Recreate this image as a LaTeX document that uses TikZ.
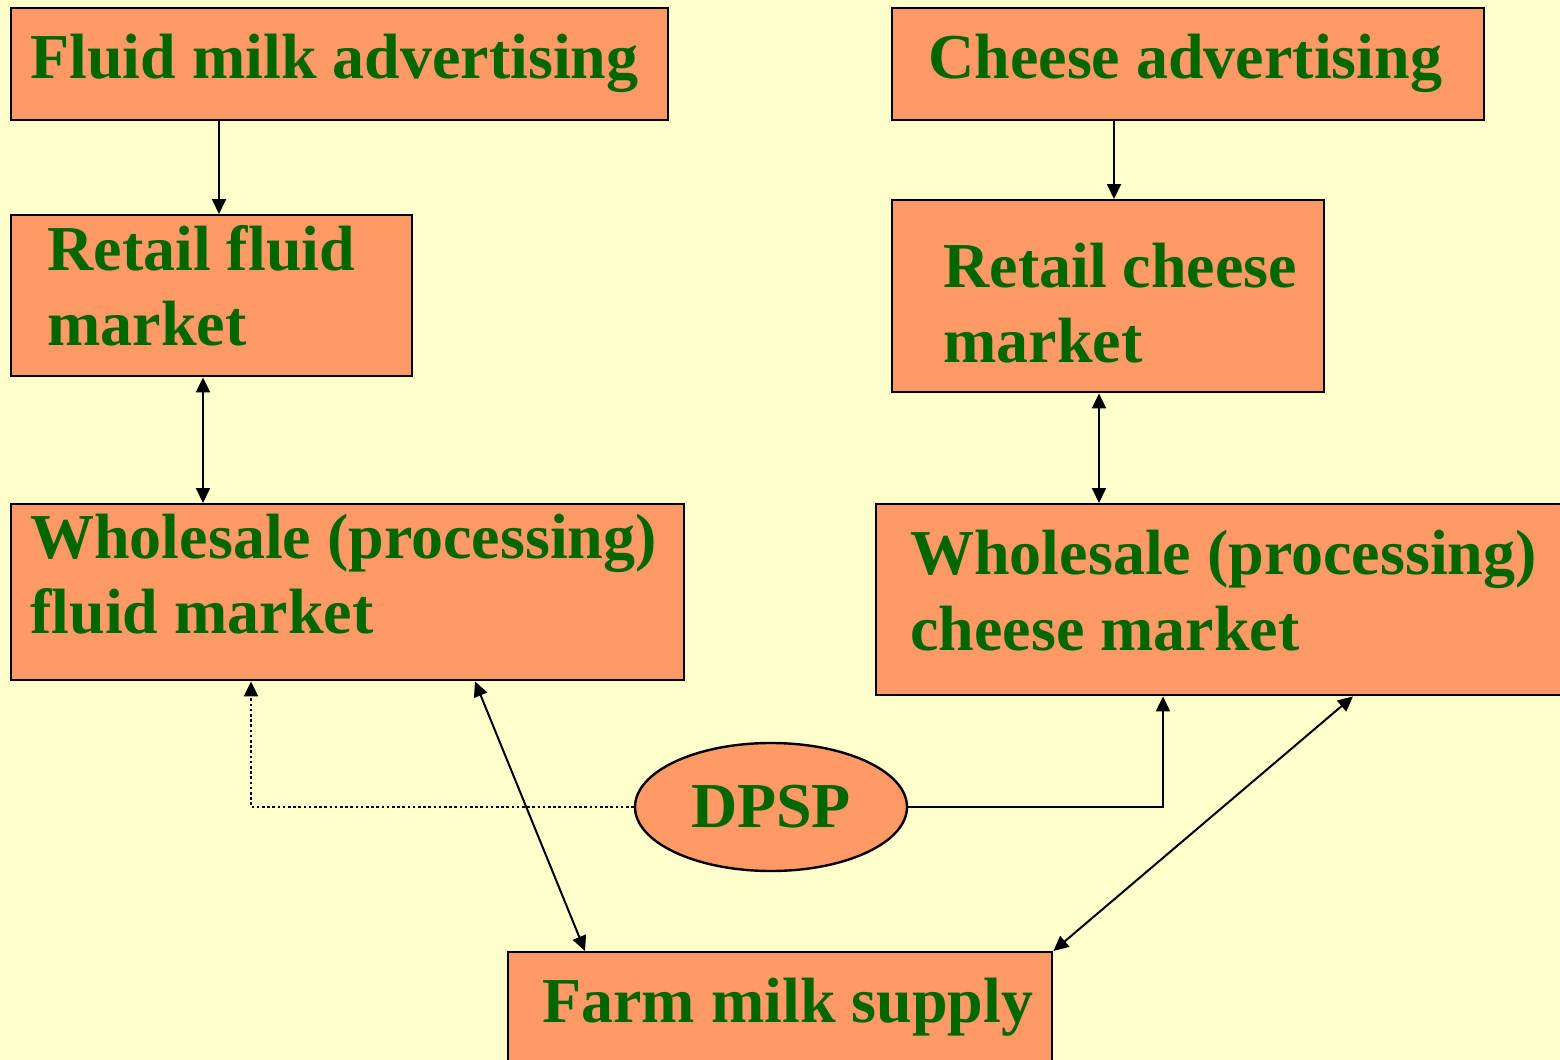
\documentclass[tikz,border=0pt]{standalone}
\usepackage{fontspec}
\setmainfont{Liberation Serif}
\usetikzlibrary{arrows.meta,shapes.geometric}
\definecolor{paper}{HTML}{FFFFCC}
\definecolor{boxfill}{HTML}{FF9966}
\definecolor{boxtext}{HTML}{006600}
\begin{document}
\begin{tikzpicture}[x=0.5pt,y=-0.5pt]
\tikzset{
    market/.style={draw=black, line width=1.2pt, fill=boxfill, rectangle, inner sep=0pt, anchor=north west},
    policy/.style={draw=black, line width=1.2pt, fill=boxfill, ellipse, inner sep=0pt,
        minimum width=136pt, minimum height=64pt, text=boxtext, font=\fontsize{32pt}{37.5pt}\bfseries},
    word/.style={anchor=base west, inner sep=0pt, text=boxtext, font=\fontsize{32pt}{37.5pt}\bfseries},
    link/.style={line width=1pt, -{Triangle[length=7.5pt,width=7pt]}},
    twolink/.style={line width=1pt, {Triangle[length=7.5pt,width=7pt]}-{Triangle[length=7.5pt,width=7pt]}},
    dotlink/.style={link, dash pattern=on 1.3pt off 1.3pt}}

\useasboundingbox[fill=paper] (0,0) rectangle (1560,1060);

% boxes
\node[market, minimum width=328.5pt, minimum height=56pt] (fluidadv) at (10,7) {};
\node[market, minimum width=296pt, minimum height=56pt] (cheeseadv) at (891,7) {};
\node[market, minimum width=200.5pt, minimum height=80.5pt] (retailfluid) at (10,214) {};
\node[market, minimum width=216pt, minimum height=96pt] (retailcheese) at (891,199) {};
\node[market, minimum width=336.5pt, minimum height=88pt] (wsfluid) at (10,503) {};
\node[market, minimum width=372.5pt, minimum height=95.5pt] (wscheese) at (875,503) {};
\node[market, minimum width=272pt, minimum height=56pt] (farm) at (507,951) {};
\node[policy] (dpsp) at (771,807) {DPSP\hspace{4pt}};

% texts
\node[word] (fluidadv-a) at (30,78) {Fluid milk advertising};
\node[word] (cheeseadv-a) at (928,78) {Cheese advertising};
\node[word] (retailfluid-a) at (47,270) {Retail fluid};
\node[word] (retailfluid-b) at (47,345) {market};
\node[word] (retailcheese-a) at (943,287) {Retail cheese};
\node[word] (retailcheese-b) at (943,362) {market};
\node[word] (wsfluid-a) at (30,558) {Wholesale (processing)};
\node[word] (wsfluid-b) at (30,633) {fluid market};
\node[word] (wscheese-a) at (910,574) {Wholesale (processing)};
\node[word] (wscheese-b) at (910,650) {cheese market};
\node[word] (farm-a) at (542,1022) {Farm milk supply};

% connectors
\draw[link] ([xshift=104.5pt]fluidadv.south west) -- ([xshift=104.5pt]retailfluid.north west);
\draw[link] ([xshift=111.5pt]cheeseadv.south west) -- ([xshift=111.5pt]retailcheese.north west);
\draw[twolink] ([xshift=96.5pt]retailfluid.south west) -- ([xshift=96.5pt]wsfluid.north west);
\draw[twolink] ([xshift=104pt]retailcheese.south west) -- ([xshift=112pt]wscheese.north west);
\draw[twolink] ([xshift=232.5pt]wsfluid.south west) -- ([xshift=39pt]farm.north west);
\draw[twolink] ([xshift=239pt]wscheese.south west) -- (farm.north east);
\draw[dotlink] (dpsp.west) -| ([xshift=120.5pt]wsfluid.south west);
\draw[link] (dpsp.east) -| ([xshift=144pt]wscheese.south west);

\end{tikzpicture}
\end{document}
